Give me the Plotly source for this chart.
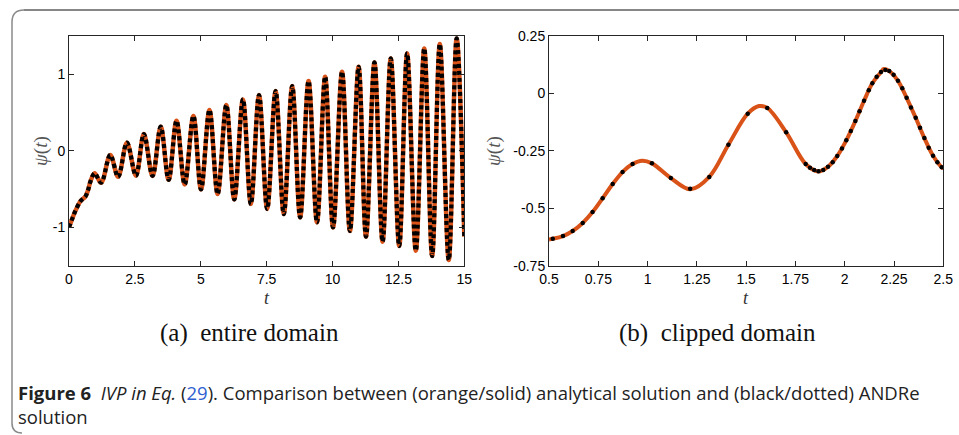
import plotly.graph_objects as go

W, H = 959, 435

# ---------------- data ----------------
# (a) entire domain: start of curve + successive extrema
full_t = [0.0, 0.12, 0.23, 0.42, 0.50, 0.62, 0.72, 0.82, 0.973, 1.218, 1.565, 1.864,
          2.198, 2.54, 2.84, 3.17, 3.48, 3.78, 4.08, 4.39, 4.72, 5.01, 5.33, 5.64,
          5.97, 6.27, 6.60, 6.90, 7.21, 7.52, 7.84, 8.15, 8.47, 8.77, 9.09, 9.41,
          9.72, 10.02, 10.36, 10.66, 10.99, 11.27, 11.59, 11.90, 12.21, 12.53,
          12.83, 13.16, 13.48, 13.78, 14.07, 14.41, 14.71, 15.0]
full_psi = [-1.0, -0.89, -0.795, -0.665, -0.636, -0.599, -0.517, -0.395, -0.2935, -0.418,
            -0.056, -0.340, 0.105, -0.326, 0.217, -0.33, 0.313, -0.38, 0.39, -0.44,
            0.452, -0.504, 0.530, -0.565, 0.595, -0.635, 0.669, -0.695, 0.726, -0.760,
            0.778, -0.826, 0.843, -0.869, 0.908, -0.934, 0.965, -1.0, 1.03, -1.047,
            1.095, -1.12, 1.152, -1.186, 1.204, -1.243, 1.269, -1.304, 1.334, -1.373,
            1.391, -1.425, 1.465, -1.12]

# (b) clipped domain: analytical curve readings
clip_t = [0.50, 0.519, 0.571, 0.620, 0.671, 0.721, 0.772, 0.823, 0.873, 0.924, 0.973,
          1.022, 1.118, 1.218, 1.313, 1.410, 1.508, 1.565, 1.607, 1.703, 1.802, 1.864,
          1.915, 1.962, 2.008, 2.054, 2.098, 2.140, 2.184, 2.198, 2.226, 2.270, 2.314,
          2.360, 2.404, 2.448, 2.492, 2.50]
clip_psi = [-0.636, -0.633, -0.621, -0.599, -0.564, -0.517, -0.457, -0.395, -0.343,
            -0.308, -0.2935, -0.305, -0.369, -0.418, -0.364, -0.224, -0.089, -0.056,
            -0.064, -0.170, -0.308, -0.340, -0.320, -0.273, -0.205, -0.121, -0.033,
            0.043, 0.092, 0.105, 0.096, 0.054, -0.020, -0.107, -0.195, -0.272, -0.322,
            -0.327]

# (b) ANDRe solution points
andre_t = [0.519, 0.571, 0.620, 0.671, 0.721, 0.772, 0.823, 0.873, 0.924, 1.022, 1.118,
           1.216, 1.313, 1.410, 1.508, 1.607, 1.703, 1.802, 1.824, 1.845, 1.867, 1.891,
           1.915, 1.939, 1.962, 1.986, 2.008, 2.031, 2.054, 2.075, 2.098, 2.122, 2.140,
           2.162, 2.184, 2.206, 2.226, 2.248, 2.270, 2.292, 2.314, 2.336, 2.360, 2.382,
           2.404, 2.426, 2.448, 2.470, 2.492]
andre_psi = [-0.633, -0.621, -0.599, -0.564, -0.517, -0.457, -0.395, -0.343, -0.308,
             -0.305, -0.369, -0.415, -0.364, -0.224, -0.089, -0.064, -0.170, -0.308,
             -0.324, -0.334, -0.339, -0.334, -0.320, -0.300, -0.273, -0.240, -0.205,
             -0.164, -0.121, -0.078, -0.033, 0.013, 0.043, 0.072, 0.092, 0.101, 0.096,
             0.080, 0.054, 0.021, -0.020, -0.062, -0.107, -0.150, -0.195, -0.237, -0.272,
             -0.300, -0.322]

x1_ticks = [0, 2.5, 5, 7.5, 10, 12.5, 15]
x1_text = ["0", "2.5", "5", "7.5", "10", "12.5", "15"]
y1_ticks = [-1, 0, 1]
y1_text = ["-1", "0", "1"]
x2_ticks = [0.5, 0.75, 1, 1.25, 1.5, 1.75, 2, 2.25, 2.5]
x2_text = ["0.5", "0.75", "1", "1.25", "1.5", "1.75", "2", "2.25", "2.5"]
y2_ticks = [-0.75, -0.5, -0.25, 0, 0.25]
y2_text = ["-0.75", "-0.5", "-0.25", "0", "0.25"]

ORANGE = "#D95319"
BLACK = "#000000"

def px(x):
    return x / W

def py(y):
    return 1 - y / H

fig = go.Figure()

# (a)
fig.add_trace(go.Scatter(x=full_t, y=full_psi, mode="lines", xaxis="x", yaxis="y",
                         line=dict(color=ORANGE, width=4.5, shape="spline", smoothing=1),
                         hoverinfo="skip", showlegend=False))
fig.add_trace(go.Scatter(x=full_t, y=full_psi, mode="lines", xaxis="x", yaxis="y",
                         line=dict(color=BLACK, width=4.2, shape="spline", smoothing=1,
                                   dash="4px,3px"),
                         hoverinfo="skip", showlegend=False))
# (b)
fig.add_trace(go.Scatter(x=clip_t, y=clip_psi, mode="lines", xaxis="x2", yaxis="y2",
                         line=dict(color=ORANGE, width=4, shape="spline", smoothing=1),
                         hoverinfo="skip", showlegend=False))
fig.add_trace(go.Scatter(x=andre_t, y=andre_psi, mode="markers", xaxis="x2", yaxis="y2",
                         marker=dict(color=BLACK, size=4.5, line=dict(width=0)),
                         hoverinfo="skip", showlegend=False))

axis_common = dict(showgrid=False, zeroline=False, showline=True, linecolor="#262626",
                   linewidth=1, mirror="allticks", ticks="inside", ticklen=5,
                   tickcolor="#262626", tickwidth=1, automargin=False,
                   tickfont=dict(family="Liberation Sans", size=14, color="#000"))

ydom = [py(265.7), py(35.7)]
fig.update_layout(
    width=W, height=H, autosize=False,
    margin=dict(l=0, r=0, t=0, b=0, pad=0, autoexpand=False),
    paper_bgcolor="white", plot_bgcolor="white",
    xaxis=dict(domain=[px(69), px(464.3)], range=[0, 15], tickvals=x1_ticks,
               ticktext=x1_text, anchor="y", **axis_common),
    yaxis=dict(domain=ydom, range=[-1.5, 1.5], tickvals=y1_ticks, ticktext=y1_text,
               anchor="x", **axis_common),
    xaxis2=dict(domain=[px(549), px(943.3)], range=[0.5, 2.5], tickvals=x2_ticks,
                ticktext=x2_text, anchor="y2", **axis_common),
    yaxis2=dict(domain=ydom, range=[-0.75, 0.25], tickvals=y2_ticks, ticktext=y2_text,
                anchor="x2", **axis_common),
)

serif = "Liberation Serif"
ann = []
# axis labels
for (x, y) in [(41, 151), (494, 151)]:
    ann.append(dict(x=px(x), y=py(y), xref="paper", yref="paper", text="<i>ψ</i>(<i>t</i>)",
                    showarrow=False, textangle=-90, xanchor="center", yanchor="middle",
                    font=dict(family=serif, size=19, color="#555")))
for (x, y) in [(266.7, 298), (746, 298)]:
    ann.append(dict(x=px(x), y=py(y), xref="paper", yref="paper", text="<i>t</i>",
                    showarrow=False, xanchor="center", yanchor="middle",
                    font=dict(family=serif, size=18, color="#333")))
# sub-captions
ann.append(dict(x=px(249), y=py(333), xref="paper", yref="paper",
                text="(a)\u00a0\u00a0entire domain", showarrow=False,
                xanchor="center", yanchor="middle",
                font=dict(family=serif, size=25, color="#111")))
ann.append(dict(x=px(717), y=py(333), xref="paper", yref="paper",
                text="(b)\u00a0\u00a0clipped domain", showarrow=False,
                xanchor="center", yanchor="middle",
                font=dict(family=serif, size=25, color="#111")))
# figure caption (two lines in one text block)
cap_font = dict(family="Open Sans", size=18.5, color="#222")
ann.append(dict(x=px(16), y=py(404), xref="paper", yref="paper",
                text="<b>Figure 6</b>\u00a0\u00a0<i>IVP in Eq.</i> (<span style='color:#2f5fd0'>29</span>). "
                     "Comparison between (orange/solid) analytical solution and (black/dotted) ANDRe"
                     "<br>solution",
                showarrow=False, xanchor="left", yanchor="middle", align="left", font=cap_font))
fig.update_layout(annotations=ann)

# frame around the figure
frame_left = (f"M {px(24)} {py(10)} Q {px(12)} {py(10)} {px(12)} {py(22)} "
              f"L {px(12)} {py(423)} Q {px(12)} {py(433)} {px(22)} {py(433)}")
fig.add_shape(type="path", path=frame_left, xref="paper", yref="paper",
              line=dict(color="#8a8a8a", width=1.5))
fig.add_shape(type="line", x0=px(24), x1=px(959), y0=py(10), y1=py(10),
              xref="paper", yref="paper", line=dict(color="#111", width=1.2))

fig.write_html("out.html", config={"displayModeBar": False, "responsive": False},
               post_script="document.body.style.margin='0';document.body.style.padding='0';"
                           "document.body.style.overflow='hidden';")
